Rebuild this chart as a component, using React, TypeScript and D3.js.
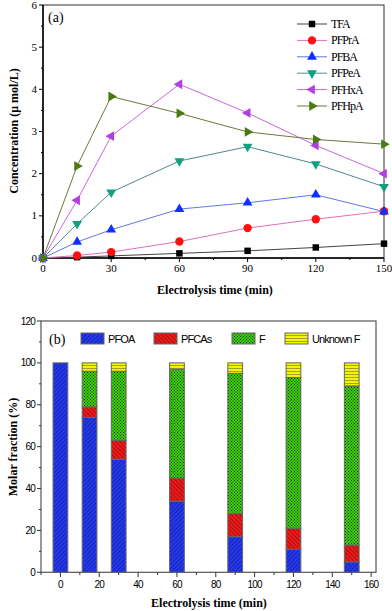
import React from "react";
import * as d3 from "d3";

// panel (a): concentration of short-chain PFCAs (umol/L)
const times = [0, 15, 30, 60, 90, 120, 150];
const seriesNames = ["TFA", "PFPrA", "PFBA", "PFPeA", "PFHxA", "PFHpA"];
const tfa = [0, 0.02, 0.05, 0.11, 0.17, 0.25, 0.34];
const pfpra = [0, 0.06, 0.14, 0.39, 0.71, 0.92, 1.11];
const pfba = [0, 0.38, 0.67, 1.16, 1.31, 1.5, 1.1];
const pfpea = [0, 0.81, 1.56, 2.3, 2.64, 2.23, 1.69];
const pfhxa = [0, 1.37, 2.89, 4.12, 3.44, 2.67, 2.0];
const pfhpa = [0, 2.18, 3.83, 3.43, 2.99, 2.81, 2.7];
const seriesValues = [tfa, pfpra, pfba, pfpea, pfhxa, pfhpa];
const yTicksA = [0, 1, 2, 3, 4, 5, 6];
const xTicksA = [0, 30, 60, 90, 120, 150];

// panel (b): molar fraction (%) stacked
const barTimes = [0, 15, 30, 60, 90, 120, 150];
const stackNames = ["PFOA", "PFCAs", "F", "Unknown F"];
const pfoa = [100, 74, 54, 34, 17, 11, 5];
const pfcas = [0, 5, 9, 11, 11, 10, 8];
const fluoride = [0, 17, 33, 52, 67, 72, 76];
const unknownF = [0, 4, 4, 3, 5, 7, 11];
const stackValues = [pfoa, pfcas, fluoride, unknownF];
const yTicksB = [0, 20, 40, 60, 80, 100, 120];
const xTicksB = [0, 20, 40, 60, 80, 100, 120, 140, 160];

const lineColors = ["#444444", "#e070b8", "#6078e0", "#4f8a90", "#cc66e0", "#6a7a3a"];
const markerColors = ["#000000", "#ff1010", "#1030ff", "#10a080", "#b040e0", "#4a7a10"];
const markerShapes = [d3.symbolSquare, d3.symbolCircle, d3.symbolTriangle, d3.symbolTriangle, d3.symbolTriangle, d3.symbolTriangle];
const markerRot = [0, 0, 0, 180, -90, 90];
const patternIds = ["patBlue", "patRed", "patGreen", "patYellow"];

const serif = "'Liberation Serif', 'DejaVu Serif', serif";
const sans = "'Liberation Sans', Arial, sans-serif";

export default function App() {
  // panel a geometry
  const xA = d3.scaleLinear().domain([0, 150]).range([43, 384]);
  const yA = d3.scaleLinear().domain([0, 6]).range([258, 5]);
  const lineGen = d3
    .line<number>()
    .x((d, i) => xA(times[i]))
    .y((d) => yA(d));

  // panel b geometry
  const xB = d3.scaleLinear().domain([-10, 162.5]).range([41, 376]);
  const yB = d3.scaleLinear().domain([0, 120]).range([572.3, 321]);
  const barW = xB(7.6) - xB(0);

  const minorA = d3.range(0, 6.01, 0.5);
  const minorAx = d3.range(0, 151, 15);
  const minorB = d3.range(0, 121, 10);
  const minorBx = d3.range(-10, 161, 10);

  return (
    <svg width={392} height={611} style={{ position: "absolute", left: 0, top: 0 }}>
      <defs>
        <pattern id="patBlue" width={3} height={3} patternUnits="userSpaceOnUse" patternTransform="rotate(45)">
          <rect width={3} height={3} fill="#2438f0" />
          <line x1={0} y1={0} x2={0} y2={3} stroke="#101a80" strokeWidth={1.2} />
        </pattern>
        <pattern id="patRed" width={3} height={3} patternUnits="userSpaceOnUse" patternTransform="rotate(-45)">
          <rect width={3} height={3} fill="#f01818" />
          <line x1={0} y1={0} x2={0} y2={3} stroke="#701010" strokeWidth={1.2} />
        </pattern>
        <pattern id="patGreen" width={3} height={3} patternUnits="userSpaceOnUse">
          <rect width={3} height={3} fill="#3ccc10" />
          <rect x={0} y={0} width={1} height={1} fill="#0a3a00" />
          <rect x={1.5} y={1.5} width={1} height={1} fill="#0a3a00" />
        </pattern>
        <pattern id="patYellow" width={3} height={3} patternUnits="userSpaceOnUse">
          <rect width={3} height={3} fill="#f4f400" />
          <line x1={0} y1={2.5} x2={3} y2={2.5} stroke="#9a9a30" strokeWidth={0.9} />
        </pattern>
      </defs>

      {/* ---------- panel (a) ---------- */}
      <rect x={43} y={5} width={341} height={253} fill="none" stroke="#333" strokeWidth={1} />
      <line x1={43} x2={43} y1={5} y2={258} stroke="#000" strokeWidth={1.5} />
      <line x1={43} x2={384} y1={258} y2={258} stroke="#000" strokeWidth={1.5} />
      {minorA.map((v) => (
        <line key={"ya" + v} x1={43} x2={v % 1 === 0 ? 39 : 41} y1={yA(v)} y2={yA(v)} stroke="#000" />
      ))}
      {yTicksA.map((v) => (
        <text key={"yal" + v} x={37} y={yA(v) + 3.5} textAnchor="end" fontFamily={serif} fontSize={11}>
          {v}
        </text>
      ))}
      {minorAx.map((v) => (
        <line key={"xa" + v} x1={xA(v)} x2={xA(v)} y1={258} y2={v % 30 === 0 ? 262 : 260} stroke="#000" />
      ))}
      {xTicksA.map((v) => (
        <text key={"xal" + v} x={xA(v)} y={272} textAnchor="middle" fontFamily={serif} fontSize={11}>
          {v}
        </text>
      ))}
      <text x={215} y={294} textAnchor="middle" fontFamily={serif} fontSize={12} fontWeight="bold">
        Electrolysis time (min)
      </text>
      <text
        transform="translate(18,131) rotate(-90)"
        textAnchor="middle"
        fontFamily={serif}
        fontSize={12}
        fontWeight="bold"
      >
        Concentration (μ mol/L)
      </text>
      <text x={48} y={22} fontFamily={serif} fontSize={14}>
        (a)
      </text>

      {seriesValues.map((vals, s) => (
        <g key={seriesNames[s]}>
          <path d={lineGen(vals) || ""} fill="none" stroke={lineColors[s]} strokeWidth={1} />
          {vals.map((v, i) => (
            <path
              key={i}
              d={d3.symbol(markerShapes[s], s === 1 ? 55 : 42)() || ""}
              transform={`translate(${xA(times[i])},${yA(v)}) rotate(${markerRot[s]})`}
              fill={markerColors[s]}
            />
          ))}
        </g>
      ))}

      {seriesNames.map((name, s) => {
        const ly = 24 + s * 16.4;
        return (
          <g key={"leg" + name}>
            <line x1={297} x2={327} y1={ly} y2={ly} stroke={lineColors[s]} strokeWidth={1} />
            <path
              d={d3.symbol(markerShapes[s], s === 1 ? 55 : 42)() || ""}
              transform={`translate(312,${ly}) rotate(${markerRot[s]})`}
              fill={markerColors[s]}
            />
            <text x={331} y={ly + 4} fontFamily={serif} fontSize={12} letterSpacing={-1}>
              {name}
            </text>
          </g>
        );
      })}

      {/* ---------- panel (b) ---------- */}
      <rect x={41} y={321} width={335} height={251.3} fill="none" stroke="#555" strokeWidth={1.2} />
      {barTimes.map((t, i) => {
        let acc = 0;
        return (
          <g key={"bar" + t}>
            {stackValues.map((vals, k) => {
              const v = vals[i];
              const y0 = acc;
              acc += v;
              if (v <= 0) return null;
              return (
                <rect
                  key={k}
                  x={xB(t) - barW / 2}
                  y={yB(acc)}
                  width={barW}
                  height={yB(y0) - yB(acc)}
                  fill={`url(#${patternIds[k]})`}
                  stroke="#666"
                  strokeWidth={1}
                />
              );
            })}
          </g>
        );
      })}
      {minorB.map((v) => (
        <line key={"yb" + v} x1={41} x2={v % 20 === 0 ? 37 : 39} y1={yB(v)} y2={yB(v)} stroke="#333" />
      ))}
      {yTicksB.map((v) => (
        <text key={"ybl" + v} x={35} y={yB(v) + 3.5} textAnchor="end" fontFamily={sans} fontSize={10} letterSpacing={-0.8}>
          {v}
        </text>
      ))}
      {minorBx.map((v) => (
        <line key={"xb" + v} x1={xB(v)} x2={xB(v)} y1={572.3} y2={v % 20 === 0 ? 577 : 575} stroke="#333" />
      ))}
      {xTicksB.map((v) => (
        <text key={"xbl" + v} x={xB(v)} y={588} textAnchor="middle" fontFamily={sans} fontSize={10} letterSpacing={-0.8}>
          {v}
        </text>
      ))}
      <text x={209} y={607} textAnchor="middle" fontFamily={serif} fontSize={12} fontWeight="bold">
        Electrolysis time (min)
      </text>
      <text
        transform="translate(17,447) rotate(-90)"
        textAnchor="middle"
        fontFamily={serif}
        fontSize={12}
        fontWeight="bold"
      >
        Molar fraction (%)
      </text>
      <text x={49} y={344} fontFamily={serif} fontSize={14}>
        (b)
      </text>
      {stackNames.map((name, k) => {
        const lx = [81, 154, 232, 285][k];
        return (
          <g key={"lb" + name}>
            <rect x={lx} y={333} width={23} height={11} fill={`url(#${patternIds[k]})`} stroke="#666" />
            <text x={lx + 27} y={342.5} fontFamily={sans} fontSize={11} letterSpacing={-0.9}>
              {name}
            </text>
          </g>
        );
      })}
    </svg>
  );
}
